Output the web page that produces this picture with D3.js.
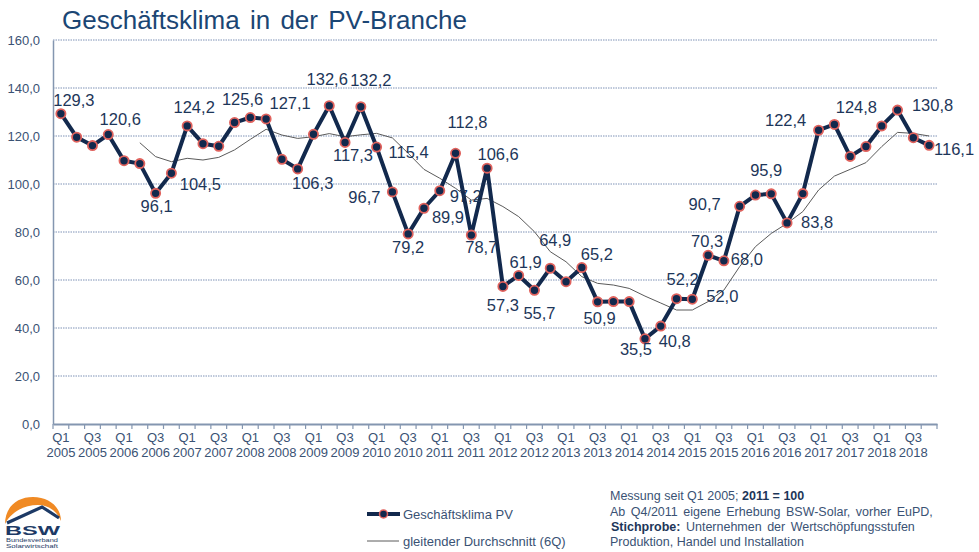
<!DOCTYPE html>
<html>
<head>
<meta charset="utf-8">
<script src="https://cdn.jsdelivr.net/npm/d3@7"></script>
<style>
  body { margin: 0; background: #fff; }
  text { font-family: "Liberation Sans", Arial, sans-serif; }
</style>
</head>
<body>
<svg id="chart" width="979" height="552"></svg>
<script>
// --- data ---
var years = [2005, 2006, 2007, 2008, 2009, 2010, 2011, 2012, 2013, 2014, 2015, 2016, 2017, 2018];
var quarterNames = ["Q1", "Q2", "Q3", "Q4"];
var quarters = [];
years.forEach(function (y) {
    quarterNames.forEach(function (q) { quarters.push(q + " " + y); });
});

var klima = [
    129.3, 119.5, 116.0, 120.6,
    109.7, 108.5, 96.1, 104.5,
    124.2, 116.8, 115.7, 125.6,
    127.7, 127.1, 110.3, 106.3,
    120.7, 132.6, 117.3, 132.2,
    115.4, 96.7, 79.2, 89.9,
    97.2, 112.8, 78.7, 106.6,
    57.3, 61.9, 55.7, 64.9,
    59.3, 65.2, 50.9, 51.0,
    51.0, 35.5, 40.8, 52.2,
    52.0, 70.3, 68.0, 90.7,
    95.4, 95.9, 83.8, 96.0,
    122.4, 124.8, 111.5, 115.6,
    124.2, 130.8, 119.3, 116.1
];

// gleitender Durchschnitt (6Q)
var gleitend = [
    null, null, null, null,
    null, 117.2, 111.4, 109.3,
    110.7, 110.0, 111.1, 114.2,
    118.6, 122.8, 120.4, 119.0,
    119.7, 121.0, 119.7, 120.5,
    121.1, 119.2, 112.8, 106.1,
    102.4, 98.2, 93.3, 94.0,
    90.6, 86.4, 80.1, 71.8,
    67.6, 61.4, 58.6, 57.9,
    56.5, 53.3, 50.4, 47.5,
    47.5, 51.0, 55.8, 65.6,
    73.9, 79.4, 83.6, 88.5,
    97.5, 103.3, 106.1, 108.9,
    115.6, 121.5, 121.1, 120.0
];

var yTicks = [0, 20, 40, 60, 80, 100, 120, 140, 160];

// which points carry a value label, and where the label sits (dx, dy from point)
var labelPos = [
    [0, 13, -8], [3, 12, -10], [6, 1, 19], [7, 29, 17], [8, 7, -13],
    [11, 8, -18], [13, 24, -10], [15, 15, 20], [17, -2, -21], [18, 8, 19],
    [19, 10, -21], [20, 32, 11], [21, -28, 11], [22, 0, 19], [23, 24, 15],
    [24, 26, 11], [25, 12, -25], [26, 10, 18], [27, 11, -8], [28, 0, 25],
    [29, 7, -7], [30, 5, 29], [31, 5, -22], [33, 15, -8], [34, 2, 22],
    [37, -9, 16], [38, 14, 21], [39, 6, -14], [40, 30, 3], [41, -1, -8],
    [42, 23, 4], [43, -35, 4], [45, -5, -18], [46, 30, 5], [48, -33, -4],
    [49, 22, -11], [53, 35, 1], [55, 25, 10]
];

var fmt = function (v) { return v.toFixed(1).replace(".", ","); };

var svg = d3.select("#chart");
var navy = "#12294d";
var axisCol = "#8496b0";
var textCol = "#3a5274";

var x = d3.scaleBand().domain(quarters).range([53, 937]).paddingInner(0).paddingOuter(0);
var y = d3.scaleLinear().domain([0, 160]).range([424, 40]);
var cx = function (i) { return x(quarters[i]) + x.bandwidth() / 2; };

// title
svg.append("text")
    .attr("x", 62).attr("y", 29)
    .attr("font-size", 26)
    .attr("word-spacing", 3)
    .attr("fill", "#1b4674")
    .text("Geschäftsklima in der PV-Branche");

// grid
svg.append("g").selectAll("line")
    .data(yTicks.filter(function (d) { return d > 0; }))
    .enter().append("line")
    .attr("x1", 53).attr("x2", 937)
    .attr("y1", function (d) { return y(d); })
    .attr("y2", function (d) { return y(d); })
    .attr("stroke", "#7f92b6")
    .attr("stroke-width", 1)
    .attr("stroke-dasharray", "1.5,1");

// y axis
var yAxis = svg.append("g")
    .attr("transform", "translate(53,0)")
    .call(d3.axisLeft(y).tickValues(yTicks).tickFormat(fmt).tickSize(0).tickPadding(13));
yAxis.select(".domain").attr("stroke", axisCol).attr("stroke-width", 1.5);
yAxis.selectAll("text").attr("font-size", 13).attr("fill", textCol)
    .attr("font-family", "Liberation Sans, Arial, sans-serif");

// x axis
var xAxis = svg.append("g")
    .attr("transform", "translate(0,424)")
    .call(d3.axisBottom(x)
        .tickValues(quarters.filter(function (d, i) { return i % 2 === 0; }))
        .tickSize(0).tickPadding(0));
xAxis.select(".domain").attr("stroke", axisCol).attr("stroke-width", 2);
xAxis.selectAll("text").each(function (d) {
    var parts = d.split(" ");
    var t = d3.select(this).text(null)
        .attr("font-size", 13).attr("fill", textCol)
        .attr("font-family", "Liberation Sans, Arial, sans-serif")
        .attr("y", 0).attr("dy", null);
    t.append("tspan").attr("x", 0).attr("y", 18).text(parts[0]);
    t.append("tspan").attr("x", 0).attr("y", 33).text(parts[1]);
});
// boundary tick marks
var bounds = quarters.map(function (q) { return x(q); }).concat([x.range()[1]]);
svg.append("g").selectAll("line").data(bounds).enter().append("line")
    .attr("x1", function (d) { return d; }).attr("x2", function (d) { return d; })
    .attr("y1", 424).attr("y2", 429)
    .attr("stroke", axisCol).attr("stroke-width", 1.2);

// moving average
var maLine = d3.line()
    .defined(function (d) { return d !== null; })
    .x(function (d, i) { return cx(i); })
    .y(function (d) { return y(d); });
svg.append("path").datum(gleitend)
    .attr("fill", "none").attr("stroke", "#5a5a5a").attr("stroke-width", 1)
    .attr("d", maLine);

// main series
var line = d3.line()
    .x(function (d, i) { return cx(i); })
    .y(function (d) { return y(d); });
svg.append("path").datum(klima)
    .attr("fill", "none").attr("stroke", navy).attr("stroke-width", 4)
    .attr("stroke-linejoin", "round")
    .attr("d", line);

svg.append("g").selectAll("circle").data(klima).enter().append("circle")
    .attr("cx", function (d, i) { return cx(i); })
    .attr("cy", function (d) { return y(d); })
    .attr("r", 4.6)
    .attr("fill", navy)
    .attr("stroke", "#e0625d")
    .attr("stroke-width", 1.8);

// value labels
svg.append("g").selectAll("text").data(labelPos).enter().append("text")
    .attr("x", function (d) { return cx(d[0]) + d[1]; })
    .attr("y", function (d) { return y(klima[d[0]]) + d[2]; })
    .attr("text-anchor", "middle")
    .attr("font-size", 16.5)
    .attr("fill", "#1d3659")
    .text(function (d) { return fmt(klima[d[0]]); });

// legend
var leg = svg.append("g");
leg.append("line").attr("x1", 367).attr("x2", 400).attr("y1", 514).attr("y2", 514)
    .attr("stroke", navy).attr("stroke-width", 4);
leg.append("circle").attr("cx", 383.5).attr("cy", 514).attr("r", 4)
    .attr("fill", navy).attr("stroke", "#e0625d").attr("stroke-width", 1.5);
leg.append("text").attr("x", 403).attr("y", 518.5).attr("font-size", 13).attr("fill", textCol)
    .text("Geschäftsklima PV");
leg.append("line").attr("x1", 367).attr("x2", 399).attr("y1", 541).attr("y2", 541)
    .attr("stroke", "#5a5a5a").attr("stroke-width", 1);
leg.append("text").attr("x", 403).attr("y", 545.5).attr("font-size", 13).attr("fill", textCol)
    .text("gleitender Durchschnitt (6Q)");

// notes
var notes = svg.append("g").attr("font-size", 12.5).attr("fill", textCol);
var n1 = notes.append("text").attr("x", 610).attr("y", 500);
n1.append("tspan").text("Messung seit Q1 2005; ");
n1.append("tspan").attr("font-weight", "bold").attr("fill", "#1d3659").text("2011 = 100");
notes.append("text").attr("x", 610).attr("y", 515.5)
    .attr("word-spacing", 2)
    .text("Ab Q4/2011 eigene Erhebung BSW-Solar, vorher EuPD,");
var n3 = notes.append("text").attr("x", 611).attr("y", 531);
n3.append("tspan").attr("font-weight", "bold").attr("fill", "#1d3659").text("Stichprobe:");
n3.append("tspan").text(" Unternehmen  der Wertschöpfungsstufen").attr("word-spacing", 2);
notes.append("text").attr("x", 610).attr("y", 546)
    .text("Produktion, Handel und Installation");

// BSW logo
var logo = svg.append("g");
logo.append("path")
    .attr("d", "M5,524 C5,507 17,497 33,497 C49,497 61,507 61,521 C57,511 48,505 38,505 C24,505 11,512 5,524 Z")
    .attr("fill", "#f08a24");
logo.append("path")
    .attr("d", "M7,523 L42,507 L59,518")
    .attr("fill", "none").attr("stroke", "#1d3a66").attr("stroke-width", 3.2)
    .attr("stroke-linejoin", "miter");
logo.append("text").attr("x", 5).attr("y", 534.5)
    .attr("font-size", 12.5).attr("font-weight", "bold")
    .attr("font-family", "DejaVu Sans, sans-serif")
    .attr("textLength", 55).attr("lengthAdjust", "spacingAndGlyphs")
    .attr("fill", "#1d3a66").text("BSW");
logo.append("text").attr("x", 6).attr("y", 541.5).attr("font-size", 5).attr("fill", "#1d3a66")
    .attr("textLength", 52).attr("lengthAdjust", "spacingAndGlyphs")
    .text("Bundesverband");
logo.append("text").attr("x", 6).attr("y", 547.5).attr("font-size", 5).attr("fill", "#1d3a66")
    .attr("textLength", 52).attr("lengthAdjust", "spacingAndGlyphs")
    .text("Solarwirtschaft");
</script>
</body>
</html>
